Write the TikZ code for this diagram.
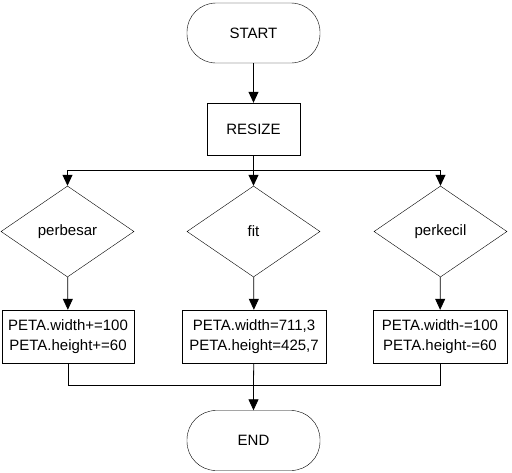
\documentclass[tikz,border=0pt]{standalone}
\usepackage{fontspec}
\setmainfont{Liberation Sans}
\usetikzlibrary{shapes.geometric,arrows.meta}
\begin{document}
\begin{tikzpicture}[x=1pt,y=-1pt,
  every node/.style={font=\fontsize{15}{20}\selectfont},
  term/.style={draw,rectangle,rounded corners=29pt,minimum width=133pt,minimum height=60pt,inner sep=0pt},
  proc/.style={draw,rectangle,minimum width=93pt,minimum height=52pt,inner sep=0pt},
  dec/.style={draw,diamond,minimum width=133pt,minimum height=91pt,inner sep=0pt},
  asg/.style={draw,rectangle,minimum height=53pt,inner sep=0pt,align=center},
  line/.style={draw,line width=0.8pt},
  arr/.style={line,-{Triangle[length=11pt,width=10pt]}}]
\useasboundingbox (0,0) rectangle (512,472);
\node[term] (start) at (253.5,33) {START};
\node[proc] (resize) at (253.5,129) {RESIZE};
\node[dec] (d1) at (67.5,231.5) {perbesar};
\node[dec] (d2) at (253.5,231.5) {fit};
\node[dec] (d3) at (440.5,231.5) {perkecil};
\node[asg,minimum width=132pt] (b1) at (68,336.5) {PETA.width+=100\\PETA.height+=60};
\node[asg,minimum width=144pt] (b2) at (254,336.5) {PETA.width=711,3\\PETA.height=425,7};
\node[asg,minimum width=134pt] (b3) at (440,336.5) {PETA.width-=100\\PETA.height-=60};
\node[term] (end) at (253.5,440.5) {END};
\coordinate (split) at (253.5,170);
\coordinate (merge) at (253.5,385);
\draw[arr] (start) -- (resize);
\draw[line] (resize) -- (split);
\draw[arr] (split) -| (d1.north);
\draw[arr] (split) -- (d2.north);
\draw[arr] (split) -| (d3.north);
\draw[arr] (d1) -- (b1);
\draw[arr] (d2) -- (b2);
\draw[arr] (d3) -- (b3);
\draw[line] (b1.south) |- (merge);
\draw[line] (b3.south) |- (merge);
\draw[line] (b2) -- (merge);
\draw[arr] (merge) -- (end);
\end{tikzpicture}
\end{document}
